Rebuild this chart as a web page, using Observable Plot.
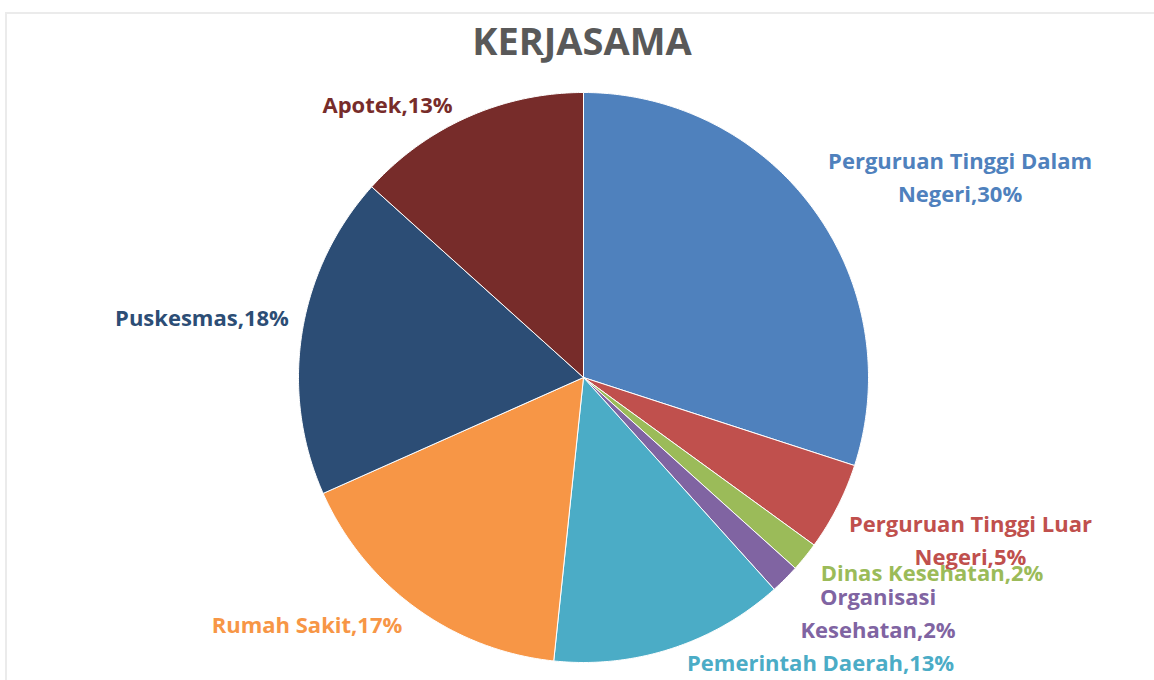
<!DOCTYPE html>
<html>
<head>
<meta charset="utf-8">
<script src="https://cdn.jsdelivr.net/npm/d3@7"></script>
<script src="https://cdn.jsdelivr.net/npm/@observablehq/plot@0.6"></script>
<style>
  html, body { margin: 0; padding: 0; background: #fff; overflow: hidden; }
  #frame { position: absolute; left: 5px; top: 12px; width: 1300px; height: 800px;
           border-top: 2px solid #ebebeb; border-left: 2px solid #ebebeb; }
  #title { position: absolute; left: 5px; top: 21px; width: 1154px; text-align: center;
           font-family: "Open Sans", sans-serif; font-weight: bold; font-size: 38px;
           line-height: 38px; color: #595959; }
  #chart { position: absolute; left: 0; top: 70px; }
</style>
</head>
<body>
<div id="frame"></div>
<div id="title">KERJASAMA</div>
<div id="chart"></div>
<script>
// ---- data ----
const categories = [
  "Perguruan Tinggi Dalam Negeri",
  "Perguruan Tinggi Luar Negeri",
  "Dinas Kesehatan",
  "Organisasi Kesehatan",
  "Pemerintah Daerah",
  "Rumah Sakit",
  "Puskesmas",
  "Apotek"
];
const counts = [18, 3, 1, 1, 8, 10, 11, 8];
// label text lines (as wrapped in the original)
const labelNames = [
  "Perguruan Tinggi Dalam\nNegeri",
  "Perguruan Tinggi Luar\nNegeri",
  "Dinas Kesehatan",
  "Organisasi\nKesehatan",
  "Pemerintah Daerah",
  "Rumah Sakit",
  "Puskesmas",
  "Apotek"
];
const colors = ["#4F81BD", "#C0504D", "#9BBB59", "#8064A2", "#4BACC6", "#F79646", "#2C4D75", "#772C2A"];

// ---- layout (pixels) ----
const W = 1154, H = 610;
const cx = 583, cy = 307, R = 285;
// label offsets from the slice's outer mid-point
const labelOffsets = [
  [146, -35], [133, 31], [127, 14], [93, 32], [149, 12], [-109, 14], [-100, -17], [-80, -15]
];

const total = d3.sum(counts);
const pie = d3.pie().sort(null).value(d => d)(counts);

const slicePts = [];
pie.forEach((p, i) => {
  const a0 = p.startAngle, a1 = p.endAngle;
  const steps = Math.max(2, Math.ceil((a1 - a0) / (Math.PI / 360)));
  slicePts.push({name: categories[i], x: 0, y: 0});
  for (let k = 0; k <= steps; k++) {
    const a = a0 + (a1 - a0) * k / steps;
    slicePts.push({name: categories[i], x: Math.sin(a), y: Math.cos(a)});
  }
  slicePts.push({name: categories[i], x: 0, y: 0});
});

const labelData = pie.map((p, i) => {
  const m = (p.startAngle + p.endAngle) / 2;
  return {
    name: categories[i],
    x: Math.sin(m),
    y: Math.cos(m),
    text: labelNames[i] + "," + Math.round(counts[i] / total * 100) + "%",
    dx: labelOffsets[i][0],
    dy: labelOffsets[i][1]
  };
});

const chart = Plot.plot({
  width: W,
  height: H,
  margin: 0,
  x: {domain: [-cx / R, (W - cx) / R], range: [0, W], axis: null},
  y: {domain: [-(H - cy) / R, cy / R], range: [H, 0], axis: null},
  color: {domain: categories, range: colors},
  style: {background: "transparent"},
  marks: [
    Plot.line(slicePts, {x: "x", y: "y", z: "name", fill: "name", stroke: "white", strokeWidth: 1, curve: "linear"}),
    ...labelData.map(d => Plot.text([d], {
      x: "x", y: "y", text: "text", fill: "name",
      dx: d.dx, dy: d.dy,
      textAnchor: "middle", lineAnchor: "middle", lineHeight: 1.5,
      fontFamily: "Open Sans", fontWeight: "bold", fontSize: 22
    }))
  ]
});
document.getElementById("chart").appendChild(chart);
</script>
</body>
</html>
